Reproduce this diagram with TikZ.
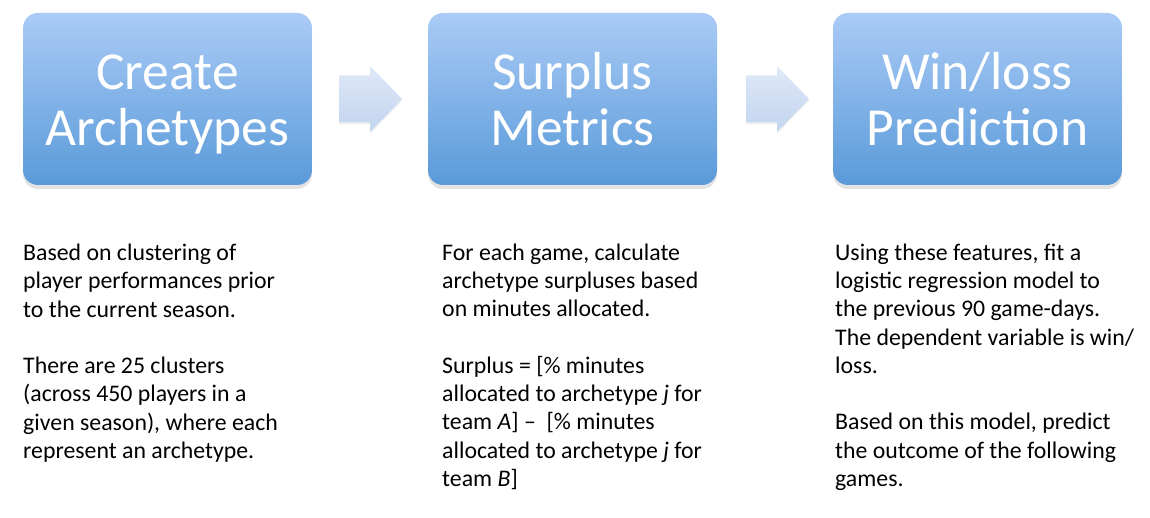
\documentclass[tikz,border=0pt]{standalone}
\usepackage{fontspec}
\setmainfont{Carlito}
\usepackage{tikz}
\usetikzlibrary{positioning,calc,shadows}
\usepackage{xcolor}
\definecolor{boxtop}{HTML}{AACBF6}
\definecolor{boxbot}{HTML}{5A9AD9}
\definecolor{arrtop}{HTML}{DFE9F8}
\definecolor{arrbot}{HTML}{C2D4EF}

\begin{document}
\begin{tikzpicture}[x=1pt,y=-1pt,
  stage/.style={rounded corners=15pt,top color=boxtop,bottom color=boxbot,draw=none,
    minimum width=289pt,minimum height=172pt,inner sep=0pt,text=white,align=center,
    font=\fontsize{53.5}{56}\selectfont,text height=100pt,text depth=6pt,
    drop shadow={opacity=0.22,shadow xshift=0pt,shadow yshift=-4pt}},
  flow/.style={top color=arrtop,bottom color=arrbot,draw=none,
    drop shadow={opacity=0.12,shadow xshift=0pt,shadow yshift=-2pt}},
  note/.style={anchor=base west,inner sep=0pt,align=left,font=\fontsize{23.8}{28.3}\selectfont}]
\useasboundingbox (0,0) rectangle (1150,518);
\node[stage] (create) at (167.5,99) {Create\\Archetypes};
\node[stage] (surplus) at (572.5,99) {Surplus\\Metrics};
\node[stage] (predict) at (977.5,99) {Win/loss\\Prediction};
\coordinate (m1) at ($(create.east)!0.5!(surplus.west)$);
\coordinate (m2) at ($(surplus.east)!0.5!(predict.west)+(2,0)$);
\foreach \m in {m1,m2}
  \path[flow] (\m) ++(-31,-23.5) -- ++(31,0) -- ++(0,-9.5) -- ++(32,33) -- ++(-32,33)
    -- ++(0,-9.5) -- ++(-31,0) -- cycle;
% base anchor sits on the last line
\node[note] (createnote) at (23,458.5) {Based on clustering of\\player performances prior\\to the current season.\\[28.3pt]
There are 25 clusters\\(across 450 players in a\\given season), where each\\represent an archetype.};
\node[note] (surplusnote) at (442,486.5) {For each game, calculate\\archetype surpluses based\\on minutes allocated.\\[28.3pt]
Surplus = [\% minutes\\allocated to archetype \textit{j} for\\team \textit{A}] --\ \ [\% minutes\\allocated to archetype \textit{j} for\\team \textit{B}]};
\node[note] (predictnote) at (835,486.5) {Using these features, fit a\\logistic regression model to\\the previous 90 game-days.\\The dependent variable is win/\\loss.\\[28.3pt]
Based on this model, predict\\the outcome of the following\\games.};
\end{tikzpicture}
\end{document}
